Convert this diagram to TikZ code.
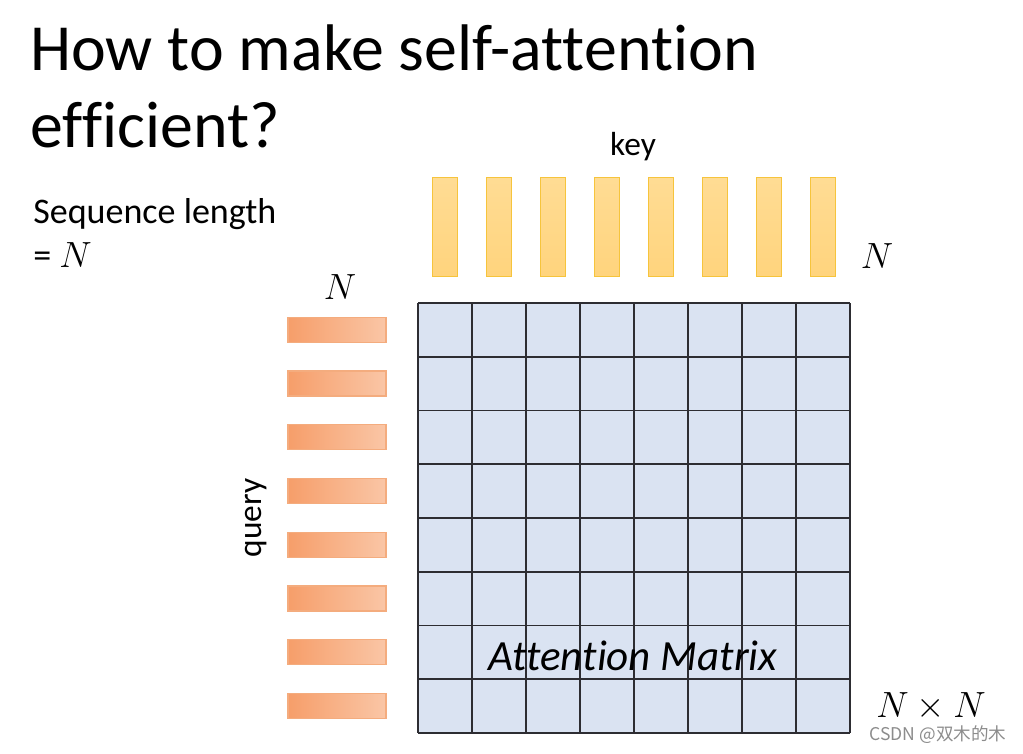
\documentclass[tikz,border=0pt]{standalone}
\usepackage{fontspec}
\setmainfont{Carlito}[Ligatures=CommonOff]
\newfontfamily\cjkfont{Noto Sans CJK SC}
\usepackage{tikz}
\definecolor{keyfill}{RGB}{255,212,125}
\definecolor{keytop}{RGB}{255,220,148}
\definecolor{keyline}{RGB}{246,196,60}
\definecolor{qleft}{RGB}{246,158,106}
\definecolor{qright}{RGB}{250,198,166}
\definecolor{qline}{RGB}{244,172,126}
\definecolor{cellblue}{RGB}{218,227,242}
\definecolor{gridgray}{RGB}{45,45,50}

\begin{document}
\begin{tikzpicture}[x=0.02cm,y=-0.02cm,
    keybar/.style={draw=keyline,line width=0.8pt,top color=keytop,bottom color=keyfill,
                   minimum width=0.5cm,minimum height=1.98cm,inner sep=0pt},
    qbar/.style={draw=qline,line width=0.7pt,left color=qleft,right color=qright,
                 minimum width=1.96cm,minimum height=0.5cm,inner sep=0pt},
    lbl/.style={font=\fontsize{19}{22}\selectfont,inner sep=0pt},
    mathlbl/.style={font=\fontsize{22}{26}\selectfont,inner sep=0pt}]
  \useasboundingbox (0,0) rectangle (1023,753);
  % title
  \node[anchor=north west,align=left,inner sep=0pt,font=\fontsize{37.5}{44}\selectfont]
    (title) at (30,24) {How to make self-attention\\efficient?};
  \node[anchor=north west,align=left,lbl,font=\fontsize{20.5}{25}\selectfont]
    (seq) at (33,198) {Sequence length\\= $N$};
  % matrix
  \fill[cellblue] (418,303) rectangle (850,733);
  \foreach \i in {0,...,8} {
    \draw[gridgray,line width=0.9pt] ({418+54*\i},303) -- ({418+54*\i},733);
    \draw[gridgray,line width=0.9pt] (418,{303+53.75*\i}) -- (850,{303+53.75*\i});
  }
  \node[lbl,font=\itshape\fontsize{24.5}{28}\selectfont] (att) at (633,656) {Attention Matrix};
  % key and query vectors
  \foreach \i in {1,...,8} {
    \node[keybar] (k\i) at ({418+54*\i-27},227) {};
    \node[qbar] (q\i) at (337,{303+53.75*\i-26.9}) {};
  }
  \node[lbl] (key) at (633,147) {key};
  \node[lbl,rotate=90] (query) at (256,518) {query};
  \node[mathlbl] (nkey) at (877,256) {$N$};
  \node[mathlbl] (nquery) at (340,287) {$N$};
  \node[mathlbl] (nn) at (931,707) {$N\times N$};
  \node[inner sep=0pt,text=black!45,font=\cjkfont\fontsize{10}{12}\selectfont]
    (mark) at (938,735) {CSDN @双木的木};
\end{tikzpicture}
\end{document}
